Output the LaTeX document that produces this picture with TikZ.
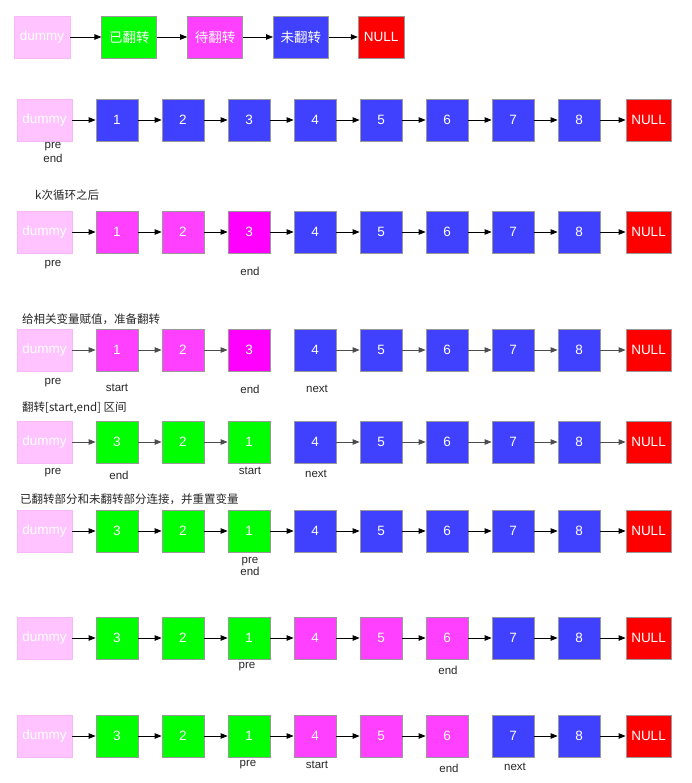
\documentclass[tikz,border=0pt]{standalone}
\usepackage{fontspec}
\setmainfont{Liberation Sans}
\newfontfamily\cjk{Noto Sans CJK SC}
\usetikzlibrary{arrows.meta,positioning}
\definecolor{llDummy}{HTML}{FFC4FF}
\definecolor{llDummyLine}{HTML}{F6B8F6}
\definecolor{llDone}{HTML}{00FF00}
\definecolor{llTodo}{HTML}{FF40FF}
\definecolor{llTodoEnd}{HTML}{FF00FF}
\definecolor{llRest}{HTML}{4040FF}
\definecolor{llNull}{HTML}{FF0000}
\definecolor{llLine}{HTML}{999999}
\tikzset{
  cell/.style={
    draw=llLine, line width=0.8pt, minimum width=42pt, minimum height=42pt,
    inner sep=0pt, text=white, font=\fontsize{13.5}{15}\selectfont
  },
  dummybox/.style={cell, fill=llDummy, draw=llDummyLine, minimum width=55pt},
  donebox/.style={cell, fill=llDone},
  todobox/.style={cell, fill=llTodo},
  todoend/.style={cell, fill=llTodoEnd},
  restbox/.style={cell, fill=llRest},
  nullbox/.style={cell, fill=llNull, minimum width=45pt},
  keybox/.style={minimum width=55pt},
  link/.style={-{Triangle[length=7pt,width=5.5pt]}, line width=0.8pt, black},
  tag/.style={font=\fontsize{11.5}{12}\selectfont, text=black!85, inner sep=0pt},
  note/.style={font=\cjk\fontsize{11.5}{13}\selectfont, text=black!85, anchor=west, inner sep=0pt}
}
\begin{document}
\begin{tikzpicture}[x=1pt, y=-1pt]
  \useasboundingbox (0,0) rectangle (692,783);

  % legend
  \node[dummybox, minimum width=56pt] (key0) at (42,37) {dummy};
  \node[donebox, keybox, right=31pt of key0] (key1) {\cjk 已翻转};
  \node[todobox, keybox, right=30pt of key1] (key2) {\cjk 待翻转};
  \node[restbox, keybox, right=30pt of key2] (key3) {\cjk 未翻转};
  \node[nullbox, minimum width=46pt, right=29pt of key3] (key4) {NULL};
  \foreach \i [evaluate=\i as \j using int(\i+1)] in {0,...,3}
    \draw[link] (key\i) -- (key\j);

  % the list, one row per step
  \foreach \rw/\yy/\vals in {
    a/120/{1/restbox,2/restbox,3/restbox,4/restbox,5/restbox,6/restbox,7/restbox,8/restbox},
    b/232/{1/todobox,2/todobox,3/todoend,4/restbox,5/restbox,6/restbox,7/restbox,8/restbox},
    c/350/{1/todobox,2/todobox,3/todoend,4/restbox,5/restbox,6/restbox,7/restbox,8/restbox},
    d/442/{3/donebox,2/donebox,1/donebox,4/restbox,5/restbox,6/restbox,7/restbox,8/restbox},
    e/531/{3/donebox,2/donebox,1/donebox,4/restbox,5/restbox,6/restbox,7/restbox,8/restbox},
    f/638/{3/donebox,2/donebox,1/donebox,4/todobox,5/todobox,6/todobox,7/restbox,8/restbox},
    g/736/{3/donebox,2/donebox,1/donebox,4/todobox,5/todobox,6/todobox,7/restbox,8/restbox}}{
    \node[dummybox] (\rw0) at (44.5,\yy) {dummy};
    \foreach \val/\sty [count=\i] in \vals
      \node[\sty] (\rw\i) at (51+66*\i,\yy) {\val};
    \node[nullbox] (\rw9) at (648.5,\yy) {NULL};
  }

  % links, with the broken one left out
  \foreach \rw/\gap/\ink in {a/9/black, b/9/black, c/3/black!70, d/3/black!70, e/9/black, f/9/black, g/6/black}{
    \foreach \i [evaluate=\i as \j using int(\i+1)] in {0,...,8}{
      \ifnum\i=\gap\else \draw[link, \ink] (\rw\i) -- (\rw\j); \fi
    }
  }

  % step notes
  \node[note] (bnote) at (35,195) {k次循环之后};
  \node[note] (cnote) at (22,319) {给相关变量赋值，准备翻转};
  \node[note] (dnote) at (22,408) {翻转[start,end] 区间};
  \node[note] (enote) at (20,499) {已翻转部分和未翻转部分连接，并重置变量};

  % pointers
  \node[tag] (apre) at (53,147) {pre};
  \node[tag] (aend) at (53,158) {end};
  \node[tag] (bpre) at (53,265) {pre};
  \node[tag] (bend) at (250,271) {end};
  \node[tag] (cpre) at (53,383) {pre};
  \node[tag] (cstart) at (117,388) {start};
  \node[tag] (cend) at (250,389) {end};
  \node[tag] (cnext) at (317,389) {next};
  \node[tag] (dpre) at (53,473) {pre};
  \node[tag] (dend) at (119,475) {end};
  \node[tag] (dstart) at (250,471) {start};
  \node[tag] (dnext) at (316,474) {next};
  \node[tag] (epre) at (250,562) {pre};
  \node[tag] (eend) at (250,571) {end};
  \node[tag] (fpre) at (247,667) {pre};
  \node[tag] (fend) at (448,670) {end};
  \node[tag] (gpre) at (248,765) {pre};
  \node[tag] (gstart) at (317,765) {start};
  \node[tag] (gend) at (449,768) {end};
  \node[tag] (gnext) at (515,767) {next};
\end{tikzpicture}
\end{document}
